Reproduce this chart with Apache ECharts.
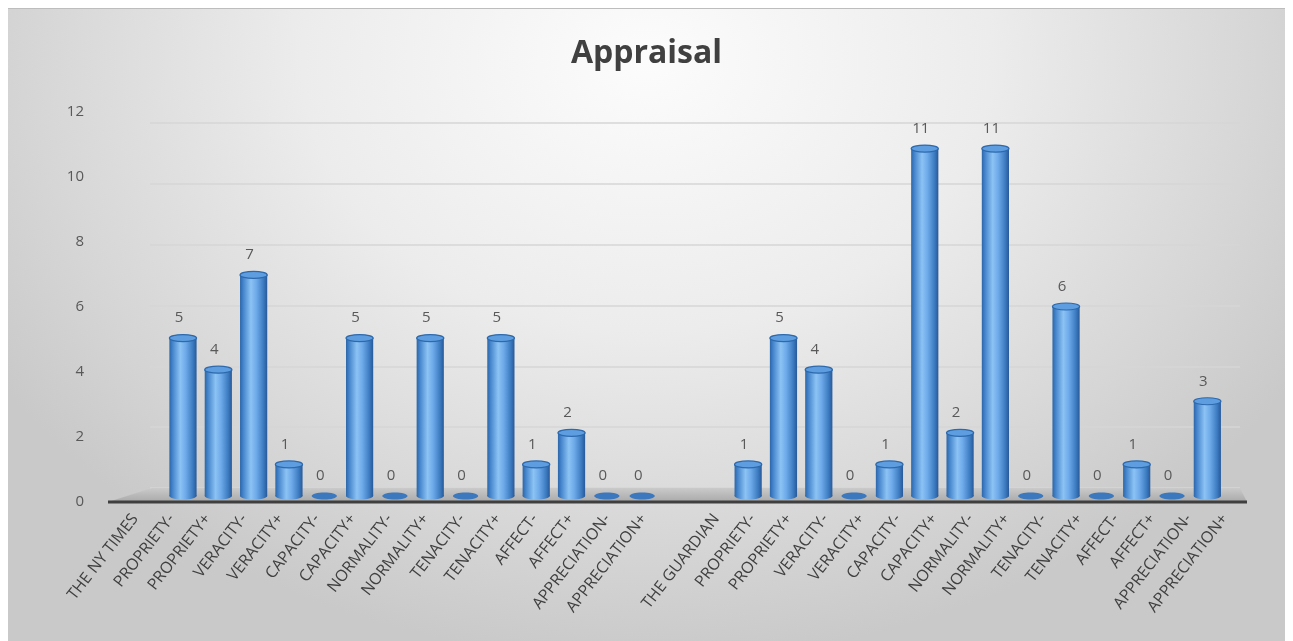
<!DOCTYPE html>
<html>
<head>
<meta charset="utf-8">
<script src="https://cdn.jsdelivr.net/npm/echarts@6/dist/echarts.min.js"></script>
<style>
  html, body { margin: 0; padding: 0; background: #fff; }
  #bg {
    position: absolute; left: 8px; top: 8px; width: 1277px; height: 633px;
    border-top: 1px solid #bdbdbd;
    background: radial-gradient(ellipse 60% 95% at 50% 8%, #fcfcfc 0%, #ececec 45%, #d6d6d6 80%, #c9c9c9 100%);
  }
  #main { position: absolute; left: 0; top: 0; width: 1293px; height: 641px; }
</style>
</head>
<body>
<div id="bg"></div>
<div id="main"></div>
<script>
// categories along the axis (blank slot between the two newspapers)
var categories = [
  "THE NY TIMES", "PROPRIETY-", "PROPRIETY+", "VERACITY-", "VERACITY+",
  "CAPACITY-", "CAPACITY+", "NORMALITY-", "NORMALITY+", "TENACITY-",
  "TENACITY+", "AFFECT-", "AFFECT+", "APPRECIATION-", "APPRECIATION+",
  "",
  "THE GUARDIAN", "PROPRIETY-", "PROPRIETY+", "VERACITY-", "VERACITY+",
  "CAPACITY-", "CAPACITY+", "NORMALITY-", "NORMALITY+", "TENACITY-",
  "TENACITY+", "AFFECT-", "AFFECT+", "APPRECIATION-", "APPRECIATION+"
];
var nyTimes = [5, 4, 7, 1, 0, 5, 0, 5, 0, 5, 1, 2, 0, 0];
var guardian = [1, 5, 4, 0, 1, 11, 2, 11, 0, 6, 0, 1, 0, 3];
var yTicks = [0, 2, 4, 6, 8, 10, 12];

// header rows and the blank row carry no value
var values = [null].concat(nyTimes, [null, null], guardian);

var bodyGrad = {
  type: "linear", x: 0, y: 0, x2: 1, y2: 0,
  colorStops: [
    { offset: 0, color: "#2b66a8" },
    { offset: 0.12, color: "#4585cc" },
    { offset: 0.4, color: "#8cc3f4" },
    { offset: 0.6, color: "#6eaaea" },
    { offset: 0.85, color: "#3e7dc2" },
    { offset: 1, color: "#27599a" }
  ]
};

function renderCylinder(params, api) {
  var v = api.value(1);
  if (v == null || isNaN(v)) return;
  var top = api.coord([api.value(0), v]);
  var base = api.coord([api.value(0), 0]);
  var w = api.size([1, 0])[0] * 0.77;
  var cx = top[0];
  var ry = 3.5;
  var children = [];
  if (v === 0) {
    children.push({
      type: "ellipse",
      shape: { cx: cx, cy: base[1], rx: w / 2 - 1, ry: ry },
      style: { fill: "#3b78be" }
    });
  } else {
    children.push({
      type: "ellipse",
      shape: { cx: cx, cy: base[1], rx: w / 2, ry: ry },
      style: { fill: bodyGrad }
    });
    children.push({
      type: "rect",
      shape: { x: cx - w / 2, y: top[1], width: w, height: base[1] - top[1] },
      style: { fill: bodyGrad }
    });
    children.push({
      type: "ellipse",
      shape: { cx: cx, cy: top[1], rx: w / 2, ry: ry },
      style: { fill: "#5e9ee0", stroke: "#2d69ac", lineWidth: 1.2 }
    });
  }
  children.push({
    type: "text",
    style: {
      text: String(v), x: cx - 4, y: top[1] - ry - 9,
      align: "center", verticalAlign: "bottom",
      fill: "#595959", font: "15px 'Open Sans'"
    }
  });
  return { type: "group", children: children };
}

var myChart = echarts.init(document.getElementById("main"));
myChart.setOption({
  backgroundColor: "transparent",
  animation: false,
  title: {
    text: "Appraisal",
    left: "center",
    top: 33,
    textStyle: { fontFamily: "Open Sans", fontSize: 32, fontWeight: "bold", color: "#404040" }
  },
  graphic: [
    {
      type: "polygon", z: 1,
      shape: { points: [[108, 502], [152, 488], [1240, 488], [1247, 502]] },
      style: {
        fill: {
          type: "linear", x: 0, y: 0, x2: 0, y2: 1,
          colorStops: [{ offset: 0, color: "#cacaca" }, { offset: 1, color: "#a9a9a9" }]
        }
      }
    },
    {
      type: "line", z: 2,
      shape: { x1: 108, y1: 502, x2: 1247, y2: 502 },
      style: { stroke: "#3f3f3f", lineWidth: 3 }
    }
  ],
  grid: [
    { left: 130, right: 68, top: 117, bottom: 145, containLabel: false },
    { left: 117, right: 50, top: 112, bottom: 139, containLabel: false },
    { left: 150, right: 53, top: 123, bottom: 153, containLabel: false }
  ],
  xAxis: [
    { type: "category", gridIndex: 0, data: categories, show: false },
    {
      type: "category", gridIndex: 1, data: categories,
      axisLine: { show: false }, axisTick: { show: false },
      axisLabel: {
        show: true, interval: 0, rotate: 52, margin: 14, hideOverlap: false,
        color: "#404040", fontFamily: "Open Sans", fontSize: 16
      }
    },
    { type: "category", gridIndex: 2, data: categories, show: false }
  ],
  yAxis: [
    { type: "value", gridIndex: 0, min: 0, max: 12, show: false },
    {
      type: "value", gridIndex: 1, min: 0, max: 12, interval: 2,
      axisLine: { show: false }, axisTick: { show: false }, splitLine: { show: false },
      axisLabel: { margin: 33, color: "#595959", fontFamily: "Open Sans", fontSize: 15 }
    },
    {
      type: "value", gridIndex: 2, min: 0, max: 12, interval: 2,
      axisLine: { show: false }, axisTick: { show: false }, axisLabel: { show: false },
      splitLine: { lineStyle: { color: "#d6d6d6", width: 1.5 } }
    }
  ],
  series: [
    {
      name: "Appraisal",
      type: "custom",
      xAxisIndex: 0,
      yAxisIndex: 0,
      z: 10,
      renderItem: renderCylinder,
      data: values.map(function (v, i) { return [i, v]; })
    }
  ]
});
</script>
</body>
</html>
